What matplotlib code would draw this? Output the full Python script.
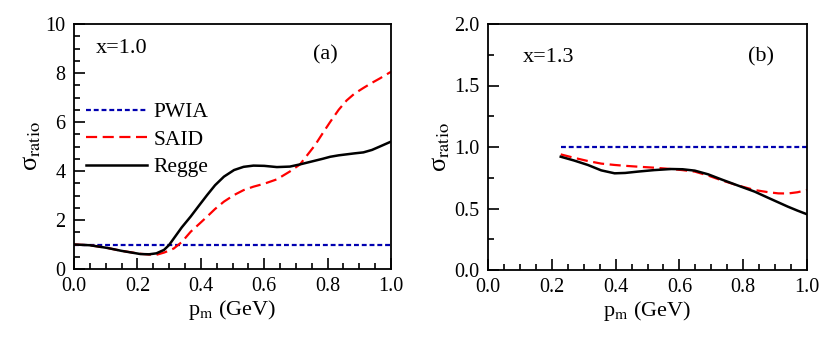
import matplotlib
matplotlib.use('Agg')
import matplotlib.pyplot as plt
from matplotlib.ticker import MultipleLocator, FormatStrFormatter

plt.rcParams['font.family'] = ['Liberation Serif', 'DejaVu Serif']
plt.rcParams['mathtext.fontset'] = 'stix'
plt.rcParams['font.size'] = 14.5

# panel (a), x=1.0
pm_a = [0.0, 0.05, 0.105, 0.15, 0.21, 0.237, 0.26, 0.284, 0.3, 0.315, 0.34, 0.368,
        0.395, 0.42, 0.445, 0.473, 0.505, 0.535, 0.566, 0.6, 0.64, 0.681, 0.713,
        0.76, 0.785, 0.808, 0.835, 0.86, 0.885, 0.913, 0.94, 0.965, 1.0]
regge_a = [1.0, 0.97, 0.86, 0.74, 0.61, 0.6, 0.64, 0.78, 0.98, 1.25, 1.7, 2.14,
           2.6, 3.02, 3.42, 3.77, 4.04, 4.17, 4.22, 4.21, 4.16, 4.18, 4.27,
           4.42, 4.5, 4.58, 4.64, 4.68, 4.72, 4.76, 4.86, 5.0, 5.2]
said_a = [1.0, 0.97, 0.86, 0.74, 0.62, 0.59, 0.58, 0.67, 0.75, 0.84, 1.1, 1.52,
          1.84, 2.14, 2.45, 2.75, 3.02, 3.22, 3.36, 3.48, 3.66, 3.98, 4.27,
          5.05, 5.55, 6.0, 6.5, 6.88, 7.16, 7.39, 7.6, 7.78, 8.05]
pwia_a = [1.0] * len(pm_a)

# panel (b), x=1.3
pm_b = [0.228, 0.27, 0.313, 0.355, 0.397, 0.43, 0.47, 0.52, 0.574, 0.61, 0.648,
        0.69, 0.731, 0.78, 0.836, 0.88, 0.91, 0.94, 0.97, 1.0]
regge_b = [0.921, 0.89, 0.854, 0.81, 0.786, 0.789, 0.80, 0.812, 0.821, 0.819, 0.808,
           0.778, 0.737, 0.69, 0.637, 0.585, 0.55, 0.515, 0.483, 0.453]
said_b = [0.94, 0.912, 0.886, 0.865, 0.854, 0.847, 0.84, 0.832, 0.821, 0.812, 0.80,
          0.768, 0.73, 0.69, 0.65, 0.632, 0.623, 0.622, 0.632, 0.65]
pwia_b = [1.0] * len(pm_b)

fig = plt.figure(figsize=(8.3, 3.42), dpi=100)
ax1 = fig.add_axes([74/830, 1-269/342, 317/830, 245/342])
ax2 = fig.add_axes([488/830, 1-270/342, 319/830, 246/342])

def style(ax, ymax, ymaj, ymin, yfmt):
    ax.set_xlim(0, 1)
    ax.set_ylim(0, ymax)
    ax.xaxis.set_major_locator(MultipleLocator(0.2))
    ax.xaxis.set_minor_locator(MultipleLocator(0.05))
    ax.yaxis.set_major_locator(MultipleLocator(ymaj))
    ax.yaxis.set_minor_locator(MultipleLocator(ymin))
    ax.xaxis.set_major_formatter(FormatStrFormatter('%.1f'))
    ax.yaxis.set_major_formatter(FormatStrFormatter(yfmt))
    ax.tick_params(which='both', direction='in', top=False, right=False, width=1.2)
    ax.tick_params(which='major', length=8, pad=6)
    ax.tick_params(which='minor', length=4)
    for s in ax.spines.values():
        s.set_linewidth(1.3)
    ax.set_xlabel(r'p$_{\rm m}$ (GeV)', fontsize=16, labelpad=1)
    ax.set_ylabel(r'σ$_{\rm ratio}$', fontsize=19, labelpad=2)

def curves(ax, pm, pwia, said, regge):
    ax.plot(pm, pwia, color='#0000b0', lw=1.6, dashes=(2.2, 1.3), label='PWIA')
    ax.plot(pm, said, color='#ff0000', lw=1.6, dashes=(5, 2.5), label='SAID')
    ax.plot(pm, regge, color='black', lw=1.8, label='Regge')

curves(ax1, pm_a, pwia_a, said_a, regge_a)
style(ax1, 10, 2, 0.5, '%d')
ax1.text(0.07, 0.9, 'x=1.0', fontsize=16, transform=ax1.transAxes, va='center')
ax1.text(0.755, 0.875, '(a)', fontsize=16, transform=ax1.transAxes, va='center')
ax1.legend(loc='center left', bbox_to_anchor=(-0.01, 0.528), frameon=False, fontsize=15.5,
           handlelength=2.85, handletextpad=0.3, labelspacing=0.35, borderaxespad=0.3)

curves(ax2, pm_b, pwia_b, said_b, regge_b)
style(ax2, 2.0, 0.5, 0.25, '%.1f')
ax2.text(0.11, 0.865, 'x=1.3', fontsize=16, transform=ax2.transAxes, va='center')
ax2.text(0.815, 0.865, '(b)', fontsize=16, transform=ax2.transAxes, va='center')

fig.savefig('out.png', dpi=100)
